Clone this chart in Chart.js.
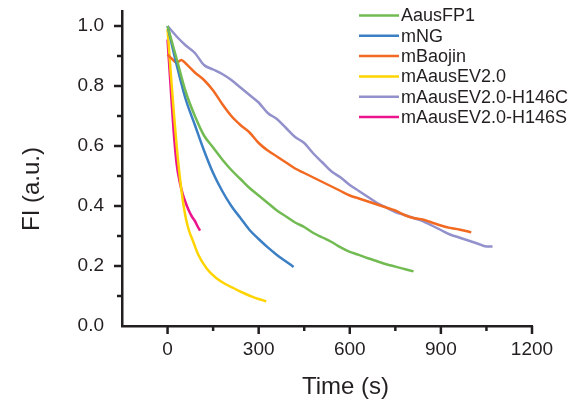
<!DOCTYPE html>
<html>
<head>
<meta charset="utf-8">
<script src="https://cdn.jsdelivr.net/npm/chart.js@4/dist/chart.umd.min.js"></script>
<style>
  html, body { margin: 0; padding: 0; background: #ffffff; }
  #c { display: block; }
</style>
</head>
<body>
<canvas id="c" width="583" height="408"></canvas>
<script>
// ---- Data ----
const seriesNames = ["AausFP1", "mNG", "mBaojin", "mAausEV2.0", "mAausEV2.0-H146C", "mAausEV2.0-H146S"];

const tAausFP1  = [0,30,60,90,120,150,180,210,240,270,300,330,360,390,420,450,480,510,540,570,600,630,660,690,720,750,780,810];
const fiAausFP1 = [1.0,0.89,0.78,0.70,0.635,0.595,0.555,0.52,0.49,0.46,0.435,0.41,0.385,0.365,0.345,0.33,0.31,0.295,0.28,0.262,0.247,0.237,0.226,0.216,0.206,0.198,0.19,0.182];

const tMNG  = [0,30,60,90,120,150,180,210,240,270,300,330,360,390,415];
const fiMNG = [1.0,0.87,0.755,0.67,0.585,0.51,0.45,0.40,0.36,0.32,0.29,0.262,0.237,0.215,0.197];

const tBaojin  = [0,15,30,45,60,90,120,150,180,210,240,270,300,330,360,390,420,450,480,510,540,570,600,630,660,690,720,750,780,810,840,870,900,930,960,990,1000];
const fiBaojin = [0.905,0.89,0.877,0.887,0.875,0.845,0.82,0.785,0.74,0.70,0.67,0.645,0.61,0.585,0.565,0.545,0.525,0.51,0.495,0.48,0.465,0.45,0.435,0.425,0.415,0.405,0.395,0.385,0.37,0.36,0.355,0.345,0.335,0.327,0.322,0.315,0.312];

const tEV20  = [0,10,20,30,40,50,60,70,85,100,130,160,190,220,250,280,310,325];
const fiEV20 = [0.99,0.85,0.72,0.60,0.50,0.42,0.36,0.32,0.28,0.24,0.19,0.16,0.14,0.125,0.11,0.097,0.087,0.082];

const tH146C  = [0,30,60,90,120,150,180,210,240,270,300,330,360,390,420,450,480,510,540,570,600,630,660,690,720,750,780,810,840,870,900,930,960,990,1020,1050,1070];
const fiH146C = [1.0,0.965,0.935,0.91,0.87,0.855,0.84,0.82,0.795,0.77,0.745,0.71,0.69,0.66,0.63,0.61,0.575,0.545,0.515,0.495,0.47,0.45,0.43,0.41,0.395,0.38,0.37,0.36,0.35,0.335,0.32,0.305,0.295,0.285,0.275,0.265,0.265];

const tH146S  = [0,10,20,30,40,50,60,70,80,90,100,107];
const fiH146S = [0.955,0.80,0.65,0.54,0.48,0.44,0.41,0.385,0.365,0.35,0.33,0.318];

const xTickValues = [-150,0,150,300,450,600,750,900,1050,1200];
const xTickLabels = ["0","300","600","900","1200"];
const yTickValues = [0,0.1,0.2,0.3,0.4,0.5,0.6,0.7,0.8,0.9,1.0];
const yTickLabels = ["0.0","0.2","0.4","0.6","0.8","1.0"];

const colors = ["#72bb53", "#3b7fc4", "#f26a22", "#ffd400", "#9291cc", "#ec148c"];

const times = [tAausFP1, tMNG, tBaojin, tEV20, tH146C, tH146S];
const values = [fiAausFP1, fiMNG, fiBaojin, fiEV20, fiH146C, fiH146S];

const FONT = "'Liberation Sans', Arial, Helvetica, sans-serif";
const AXIS_COLOR = "#231f20";

const datasets = seriesNames.map((name, i) => ({
  label: name,
  data: times[i].map((t, k) => ({ x: t, y: values[i][k] })),
  borderColor: colors[i],
  backgroundColor: colors[i],
  borderWidth: 2.5,
  pointRadius: 0,
  cubicInterpolationMode: 'monotone',
  fill: false
}));

// custom tick marks (major + minor) from the scales
const tickMarks = {
  id: 'tickMarks',
  afterDraw(chart) {
    const ctx = chart.ctx;
    const xs = chart.scales.x, ys = chart.scales.y;
    const area = chart.chartArea;
    ctx.save();
    ctx.strokeStyle = AXIS_COLOR;
    ctx.lineWidth = 2.5;
    xs.ticks.forEach(t => {
      const v = t.value;
      if (Math.abs(v - xs.min) < 1e-6) return;
      const px = xs.getPixelForValue(v);
      const major = Math.abs(v % 300) < 1e-6;
      const len = major ? 8 : 5;
      ctx.beginPath();
      ctx.moveTo(px, area.bottom);
      ctx.lineTo(px, area.bottom + len);
      ctx.stroke();
    });
    ys.ticks.forEach(t => {
      const v = t.value;
      if (Math.abs(v) < 1e-6) return;
      const py = ys.getPixelForValue(v);
      const major = Math.round(v * 10) % 2 === 0;
      const len = major ? 8 : 5;
      ctx.beginPath();
      ctx.moveTo(area.left, py);
      ctx.lineTo(area.left - len, py);
      ctx.stroke();
    });
    ctx.restore();
  }
};

// legend drawn inside the plot, and axis titles
const legendAndTitles = {
  id: 'legendAndTitles',
  afterDraw(chart) {
    const ctx = chart.ctx;
    ctx.save();
    ctx.font = "18px " + FONT;
    ctx.textBaseline = 'middle';
    ctx.textAlign = 'left';
    chart.data.datasets.forEach((ds, i) => {
      const y = 15.5 + i * 20.3;
      ctx.strokeStyle = ds.borderColor;
      ctx.lineWidth = 2.5;
      ctx.beginPath();
      ctx.moveTo(359, y);
      ctx.lineTo(399, y);
      ctx.stroke();
      ctx.fillStyle = AXIS_COLOR;
      ctx.fillText(ds.label, 401, y + 1);
    });
    // axis titles
    ctx.font = "24px " + FONT;
    ctx.fillStyle = AXIS_COLOR;
    ctx.textAlign = 'center';
    ctx.textBaseline = 'alphabetic';
    ctx.fillText("Time (s)", 345.5, 394);
    ctx.translate(39, 189);
    ctx.rotate(-Math.PI / 2);
    ctx.fillText("FI (a.u.)", 0, 0);
    ctx.restore();
  }
};

new Chart(document.getElementById('c'), {
  type: 'line',
  data: { datasets },
  options: {
    responsive: false,
    animation: false,
    devicePixelRatio: 1,
    layout: { padding: { top: 11, right: 51, bottom: 0, left: 0 } },
    plugins: { legend: { display: false }, tooltip: { enabled: false } },
    scales: {
      x: {
        type: 'linear',
        min: -150, max: 1200,
        grid: { display: false, drawTicks: false },
        border: { display: true, color: AXIS_COLOR, width: 2.5 },
        afterBuildTicks: (s) => { s.ticks = xTickValues.map(v => ({ value: v })); },
        ticks: {
          padding: 12,
          color: AXIS_COLOR,
          font: { family: FONT, size: 19 },
          maxRotation: 0,
          autoSkip: false,
          callback: (v) => (v >= 0 && v % 300 === 0) ? xTickLabels[v / 300] : ''
        },
        afterFit: (s) => { s.height = 82; s.paddingLeft = 0; s.paddingRight = 0; }
      },
      y: {
        type: 'linear',
        min: 0, max: 1.05,
        grid: { display: false, drawTicks: false },
        border: { display: true, color: AXIS_COLOR, width: 2.5 },
        afterBuildTicks: (s) => { s.ticks = yTickValues.map(v => ({ value: v })); },
        ticks: {
          padding: 18,
          color: AXIS_COLOR,
          font: { family: FONT, size: 19 },
          autoSkip: false,
          callback: (v) => {
            const r = Math.round(v * 10);
            return (r % 2 === 0) ? yTickLabels[r / 2] : '';
          }
        },
        afterFit: (s) => { s.width = 122; s.paddingTop = 0; s.paddingBottom = 0; }
      }
    }
  },
  plugins: [tickMarks, legendAndTitles]
});
</script>
</body>
</html>
